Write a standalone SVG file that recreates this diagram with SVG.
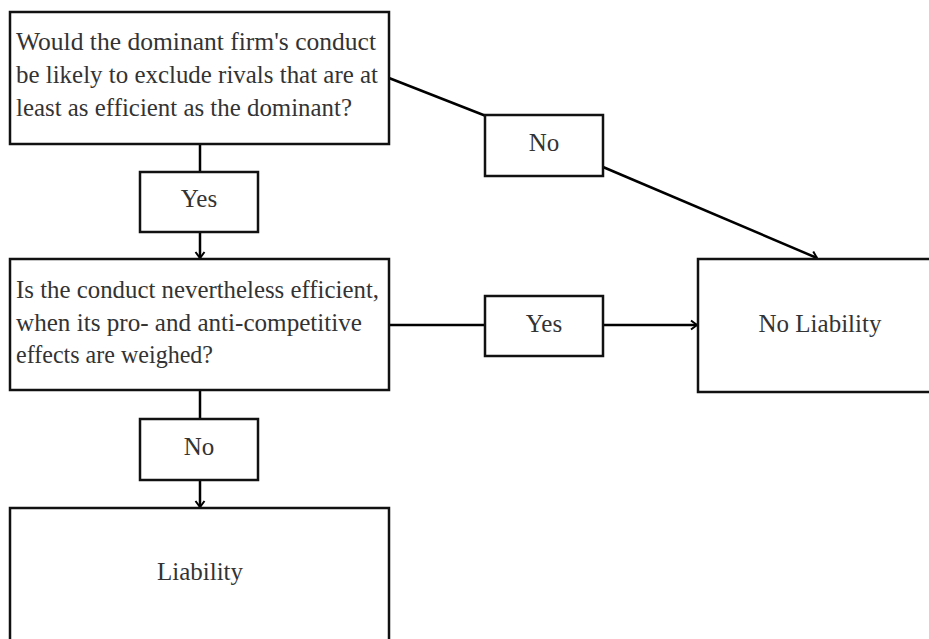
<svg xmlns="http://www.w3.org/2000/svg" width="929" height="639" viewBox="0 0 929 639">
<defs>
<marker id="arr" markerWidth="12" markerHeight="12" refX="9" refY="6" orient="auto" markerUnits="userSpaceOnUse">
<path d="M3,1.5 L9,6 L3,10.5" fill="none" stroke="#000" stroke-width="2"/>
</marker>
<style>
.box{fill:#fff;stroke:#111;stroke-width:2.5}
.c{text-anchor:middle}
.ln{stroke:#000;stroke-width:2.5;fill:none}
text{font-family:"Liberation Serif","Times New Roman","DejaVu Serif",serif;font-size:25px;fill:#333}
</style>
</defs>
<rect width="929" height="639" fill="#fff"/>
<g id="connectors">
<line class="ln" x1="389" y1="78" x2="486" y2="116"/>
<line class="ln" x1="603" y1="167" x2="817" y2="258" marker-end="url(#arr)"/>
<line class="ln" x1="200" y1="144" x2="200" y2="172"/>
<line class="ln" x1="200" y1="232" x2="200" y2="258" marker-end="url(#arr)"/>
<line class="ln" x1="389" y1="325" x2="485" y2="325"/>
<line class="ln" x1="603" y1="325" x2="697" y2="325" marker-end="url(#arr)"/>
<line class="ln" x1="200" y1="390" x2="200" y2="419"/>
<line class="ln" x1="200" y1="480" x2="200" y2="507" marker-end="url(#arr)"/>
</g>
<g id="q1">
<rect class="box" x="10" y="12" width="379" height="132"/>
<text x="16" y="50" textLength="360" lengthAdjust="spacingAndGlyphs">Would the dominant firm's conduct</text>
<text x="16" y="83" textLength="362" lengthAdjust="spacingAndGlyphs">be likely to exclude rivals that are at</text>
<text x="16" y="116" textLength="336" lengthAdjust="spacingAndGlyphs">least as efficient as the dominant?</text>
</g>
<g id="no1">
<rect class="box" x="485" y="115" width="118" height="61"/>
<text class="c" x="544" y="151">No</text>
</g>
<g id="yes1">
<rect class="box" x="140" y="172" width="118" height="60"/>
<text class="c" x="199" y="207">Yes</text>
</g>
<g id="q2">
<rect class="box" x="10" y="259" width="379" height="131"/>
<text x="16" y="298" textLength="363" lengthAdjust="spacingAndGlyphs">Is the conduct nevertheless efficient,</text>
<text x="16" y="331" textLength="346" lengthAdjust="spacingAndGlyphs">when its pro- and anti-competitive</text>
<text x="16" y="363" textLength="197" lengthAdjust="spacingAndGlyphs">effects are weighed?</text>
</g>
<g id="yes2">
<rect class="box" x="485" y="296" width="118" height="60"/>
<text class="c" x="544" y="332">Yes</text>
</g>
<g id="noliability">
<rect class="box" x="698" y="259" width="244" height="133"/>
<text class="c" x="820" y="332">No Liability</text>
</g>
<g id="no2">
<rect class="box" x="140" y="419" width="118" height="61"/>
<text class="c" x="199" y="455">No</text>
</g>
<g id="liability">
<rect class="box" x="10" y="508" width="379" height="133"/>
<text class="c" x="200" y="580">Liability</text>
</g>
</svg>
